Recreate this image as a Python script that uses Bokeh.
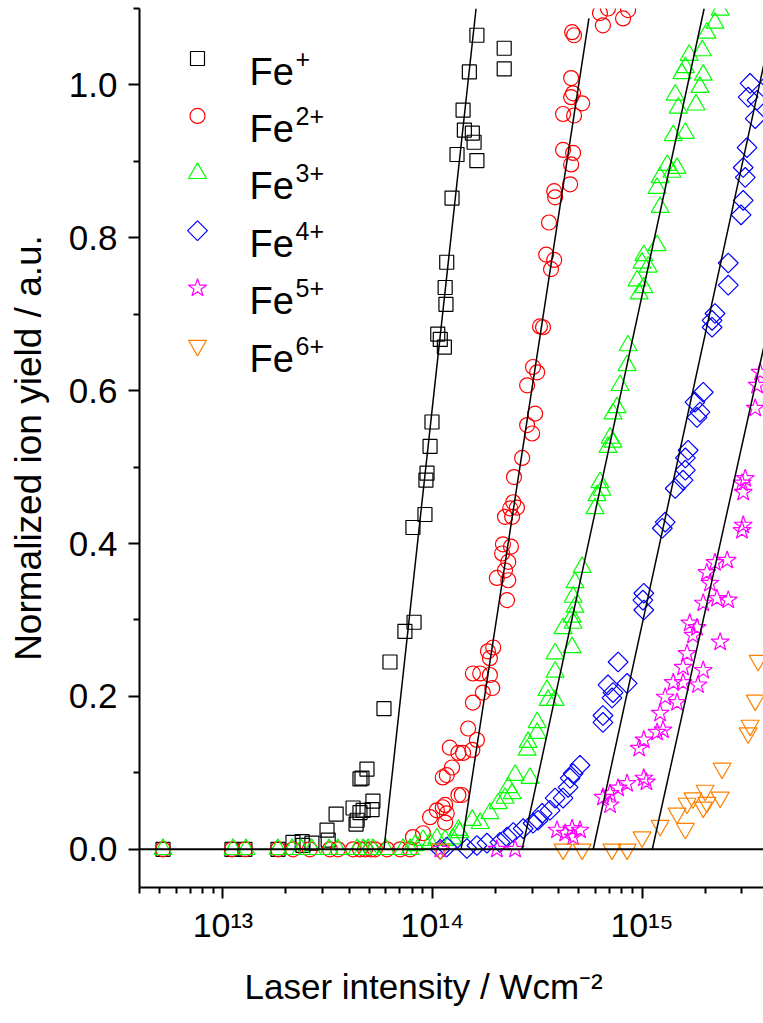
import numpy as np
from bokeh.plotting import figure
from bokeh.models import Range1d, FixedTicker, Span, Title, CustomJSTickFormatter, PrintfTickFormatter
from bokeh.core.properties import value
from bokeh.embed import file_html
from bokeh.resources import INLINE

# Laser intensity in units of 1e13 W/cm^2, normalized ion yield (a.u.)
fe1_I = [0.518, 1.105, 1.274, 1.832, 2.16, 2.39, 2.41, 2.66, 3.14, 3.18, 3.47, 4.18, 4.32, 4.37,
         4.51, 4.67, 5.15, 5.20, 4.61, 4.87, 4.51, 5.87, 6.27, 7.39, 8.17, 8.07, 9.21, 9.31, 9.42,
         9.74, 9.95, 10.6, 10.9, 11.4, 11.5, 11.6, 11.7, 12.4, 13.1, 16.3, 14.0, 14.2, 15.5, 15.8,
         15.0, 16.3, 22.0, 22.0]
fe1_Y = [0, 0, 0, 0, 0.009, 0.010, 0.005, 0.008, 0.025, 0.012, 0.046, 0.054, 0.033, 0.038,
         0.048, 0.051, 0.052, 0.063, 0.093, 0.105, 0.092, 0.184, 0.245, 0.285, 0.297, 0.421, 0.438,
         0.483, 0.492, 0.527, 0.559, 0.674, 0.667, 0.657, 0.735, 0.713, 0.768, 0.852, 0.909, 0.901,
         0.967, 0.941, 0.937, 0.925, 1.017, 1.065, 1.048, 1.021]

fe2_I = [0.518, 1.105, 1.274, 1.832, 2.16, 2.60, 3.24, 3.54, 4.18, 4.51, 4.77, 5.09, 5.32, 6.07,
         7.01, 7.82, 8.07, 9.02, 9.74, 10.5, 11.5, 11.5, 11.2, 11.7, 11.2, 12.4, 11.7, 12.1, 13.3,
         13.3, 13.8, 14.0, 15.5, 16.3, 14.8, 15.6, 17.4, 19.3, 18.8, 16.9, 15.6, 18.8, 18.4, 19.5,
         22.7, 23.0, 20.3, 22.2, 23.0, 21.5, 23.7, 21.7, 24.0, 22.2, 23.5, 25.3, 24.3, 24.5, 26.8,
         29.9, 28.3, 30.9, 28.3, 30.2, 31.6, 32.6, 33.7, 34.9, 38.1, 36.8, 36.0, 38.1, 38.5, 45.4,
         45.9, 42.0, 46.9, 42.0, 47.4, 51.8, 45.9, 46.9, 45.9, 46.4, 47.4, 63.0, 68.8, 65.1, 81.2,
         85.8]
fe2_Y = [0, 0, 0, 0, 0, 0, 0, 0, 0, 0, 0, 0, 0, 0,
         0, 0, 0.016, 0.021, 0.042, 0.051, 0.058, 0.035, 0.055, 0.047, 0.094, 0.107, 0.097, 0.133,
         0.126, 0.071, 0.071, 0.126, 0.130, 0.143, 0.158, 0.192, 0.205, 0.211, 0.228, 0.230, 0.230,
         0.250, 0.259, 0.264, 0.326, 0.352, 0.355, 0.365, 0.376, 0.387, 0.396, 0.399, 0.435, 0.435,
         0.446, 0.447, 0.454, 0.487, 0.512, 0.544, 0.555, 0.570, 0.607, 0.631, 0.624, 0.684, 0.683,
         0.778, 0.771, 0.759, 0.820, 0.861, 0.853, 0.870, 0.896, 0.915, 0.911, 0.962, 0.960, 0.976,
         0.984, 0.989, 1.009, 1.069, 1.065, 1.094, 1.100, 1.078, 1.087, 1.098]

fe3_I = [0.518, 1.117, 1.289, 1.832, 2.137, 2.36, 2.66, 3.21, 3.54, 4.37, 4.67, 4.93, 5.20, 5.99,
         7.24, 7.82, 8.26, 9.02, 9.74, 10.5, 11.5, 12.5, 13.5, 13.3, 15.5, 16.9, 18.8, 20.6, 22.2,
         24.0, 23.0, 29.2, 24.8, 28.3, 28.6, 31.6, 31.6, 35.6, 38.5, 35.2, 38.5, 38.5, 46.4, 42.0,
         46.9, 46.4, 47.9, 46.9, 47.9, 51.8, 59.7, 61.0, 64.4, 63.0, 68.8, 70.4, 72.7, 72.7, 76.0,
         78.6, 84.9, 85.8, 96.9, 102, 94.8, 107, 100, 102, 118, 122, 118, 122, 139, 147, 132, 141,
         161, 149, 181, 144, 189, 196, 155, 161, 168, 194, 204, 223, 236]
fe3_Y = [0, 0, 0, 0, 0, 0, 0, 0, 0, 0, 0, 0, 0, 0,
         0, 0, 0.005, 0.012, 0.008, 0.014, 0.012, 0.014, 0.022, 0.025, 0.038, 0.034, 0.047, 0.060,
         0.067, 0.073, 0.081, 0.093, 0.097, 0.130, 0.140, 0.152, 0.166, 0.195, 0.195, 0.208, 0.232,
         0.256, 0.264, 0.289, 0.296, 0.304, 0.317, 0.330, 0.349, 0.369, 0.446, 0.463, 0.470, 0.480,
         0.526, 0.538, 0.533, 0.570, 0.578, 0.607, 0.633, 0.659, 0.727, 0.735, 0.744, 0.762, 0.767,
         0.777, 0.790, 0.840, 0.865, 0.879, 0.886, 0.891, 0.895, 0.934, 0.937, 0.970, 0.974, 0.987,
         0.997, 1.013, 1.015, 1.023, 1.039, 1.045, 1.068, 1.081, 1.098]

fe4_I = [10.9, 11.7, 14.6, 16.3, 18.2, 21.0, 22.7, 24.3, 27.1, 30.2, 31.9, 33.4, 36.4, 38.5, 42.0,
         44.4, 45.4, 46.9, 50.6, 65.1, 65.1, 71.9, 72.7, 68.8, 84.9, 76.9, 102, 101, 102, 125, 129,
         144, 157, 161, 161, 166, 183, 189, 179, 196, 216, 216, 223, 258, 258, 297, 304, 311, 304,
         317, 347, 354, 321, 328, 409]
fe4_Y = [0.0, 0.003, 0.001, 0.005, 0.008, 0.009, 0.016, 0.022, 0.027, 0.034, 0.038, 0.047, 0.051,
         0.067, 0.067, 0.081, 0.093, 0.099, 0.110, 0.166, 0.175, 0.198, 0.205, 0.215, 0.217, 0.245,
         0.313, 0.326, 0.335, 0.420, 0.428, 0.472, 0.483, 0.496, 0.512, 0.522, 0.565, 0.572, 0.585,
         0.598, 0.683, 0.692, 0.701, 0.738, 0.767, 0.830, 0.849, 0.879, 0.892, 0.918, 0.956, 0.980,
         0.984, 1.002, 1.004]

fe5_I = [10.9, 20.3, 24.8, 39.3, 43.0, 46.4, 46.9, 50.6, 65.1, 70.4, 70.4, 76.9, 84.9, 102, 105,
         96.9, 102, 118, 126, 122, 147, 129, 185, 141, 157, 196, 157, 164, 236, 175, 183, 169, 258,
         228, 196, 211, 204, 223, 255, 300, 304, 304, 300, 311, 347, 354, 366]
fe5_Y = [0.0, 0.0, 0.0, 0.025, 0.021, 0.027, 0.016, 0.025, 0.068, 0.058, 0.073, 0.080, 0.086,
         0.093, 0.088, 0.132, 0.143, 0.153, 0.156, 0.178, 0.192, 0.199, 0.215, 0.218, 0.218, 0.234,
         0.238, 0.256, 0.271, 0.280, 0.290, 0.296, 0.326, 0.328, 0.322, 0.348, 0.362, 0.375, 0.378,
         0.417, 0.424, 0.467, 0.479, 0.485, 0.577, 0.607, 0.624]

fe6_I = [10.9, 42.0, 51.8, 71.9, 84.9, 100, 122, 147, 161, 164, 175, 196, 204, 200, 236, 241, 321,
         328, 347, 358]
fe6_Y = [0.0, 0.0, 0.0, 0.0, 0.0, 0.016, 0.031, 0.047, 0.027, 0.060, 0.067, 0.055, 0.061, 0.077,
         0.068, 0.106, 0.152, 0.162, 0.195, 0.247]

# linear fits (in log intensity): start at zero yield, end point at top
fit_I0 = [5.87, 13.7, 26.8, 58.5, 112]
fit_I1 = [16.15, 55.8, 198, 436, 870]
fit_Y1 = [1.10, 1.087, 1.10, 1.10, 1.10]

ion_base = "Fe"
ion_charge = ["+", "2+", "3+", "4+", "5+", "6+"]
x_tick_values = [1e13, 1e14, 1e15]
x_tick_labels = ["10\u00b9\u00b3", "10\u00b9\u2074", "10\u00b9\u2075"]
y_tick_values = [0.0, 0.2, 0.4, 0.6, 0.8, 1.0]
x_title = "Laser intensity / Wcm\u207b\u00b2"
y_title = "Normalized ion yield / a.u."

UNIT = 1e13
FONT = "Liberation Sans"

X0, X1 = 4e12, 3.8e15
Y0, Y1 = -0.05, 1.1
W, H = 763, 1023
BL, BT, BB = 139, 8, 136
FW, FH = W - BL, H - BT - BB

p = figure(width=W, height=H, x_axis_type="log", output_backend="svg", toolbar_location=None,
           x_range=Range1d(X0, X1), y_range=Range1d(Y0, Y1),
           min_border_left=BL, min_border_right=0, min_border_top=BT, min_border_bottom=BB)
p.outline_line_color = None
p.grid.visible = False
p.background_fill_color = "white"
p.border_fill_color = "white"

def px_to_x(px):
    return 10 ** (np.log10(X0) + (px - BL) * (np.log10(X1) - np.log10(X0)) / FW)

def py_to_y(py):
    return Y1 - (py - BT) * (Y1 - Y0) / FH

# axes
minor_x = [k * 10.0 ** n for n in range(12, 16) for k in range(2, 10)]
p.xaxis.ticker = FixedTicker(ticks=x_tick_values, minor_ticks=minor_x)
js_map = "{" + ",".join(f"{int(round(np.log10(t)))}: '{s}'" for t, s in zip(x_tick_values, x_tick_labels)) + "}"
p.xaxis.formatter = CustomJSTickFormatter(
    code=f"const m = {js_map}; return m[Math.round(Math.log10(tick))] || '';")
p.yaxis.ticker = FixedTicker(ticks=y_tick_values, minor_ticks=[0.1, 0.3, 0.5, 0.7, 0.9, 1.1])
p.yaxis.formatter = PrintfTickFormatter(format="%.1f")
for ax in (p.xaxis[0], p.yaxis[0]):
    ax.axis_line_width = 2
    ax.axis_line_color = "black"
    ax.major_tick_line_width = 2
    ax.minor_tick_line_width = 2
    ax.major_tick_line_color = "black"
    ax.minor_tick_line_color = "black"
    ax.major_tick_in = 0
    ax.minor_tick_in = 0
    ax.major_tick_out = 11
    ax.minor_tick_out = 6
    ax.major_label_text_font = FONT
    ax.major_label_text_color = "black"
p.yaxis.major_label_text_font_size = "35px"
p.yaxis.major_label_standoff = 11
p.xaxis.major_label_text_font_size = "34px"
p.xaxis.major_label_standoff = 7
p.yaxis.axis_label = y_title
p.yaxis.axis_label_text_font = FONT
p.yaxis.axis_label_text_font_size = "37px"
p.yaxis.axis_label_text_font_style = "normal"
p.yaxis.axis_label_text_color = "black"
p.yaxis.axis_label_standoff = 17

# x axis title, left-aligned with a horizontal offset
p.add_layout(Title(text=x_title, align="left", offset=105, standoff=36,
                   text_font=FONT, text_font_size="35px", text_font_style="normal",
                   text_color="black"), "below")

# zero line
p.add_layout(Span(location=0, dimension="width", line_color="black", line_width=2))

series = [
    (fe1_I, fe1_Y, "square", "#000000", 14, 0.0),
    (fe2_I, fe2_Y, "circle", "#FF0000", 15, 0.0),
    (fe3_I, fe3_Y, "triangle", "#00FF00", 18, 0.0),
    (fe4_I, fe4_Y, "square", "#0000FF", 14, np.pi / 4),
    (fe5_I, fe5_Y, "star", "#FF00FF", 19, 0.0),
    (fe6_I, fe6_Y, "inverted_triangle", "#FF8000", 18, 0.0),
]

for I, Y, mk, col, sz, ang in series:
    p.scatter(x=[v * UNIT for v in I], y=Y, marker=mk, size=sz, angle=ang,
              fill_color=None, line_color=col, line_width=1.2)

p.segment(x0=[v * UNIT for v in fit_I0], y0=[0] * len(fit_I0),
          x1=[v * UNIT for v in fit_I1], y1=fit_Y1, line_color="black", line_width=1.5)

# legend (manual, with superscript charges)
lx = px_to_x(197)
for k, (I, Y, mk, col, sz, ang) in enumerate(series):
    cy = 58 + 57.4 * k
    p.scatter(x=[lx], y=[py_to_y(cy)], marker=mk, size=sz, angle=ang,
              fill_color=None, line_color=col, line_width=1.2)
    p.text(x=[lx], y=[py_to_y(cy + 13)], text=[ion_base], x_offset=52,
           text_font=value(FONT), text_font_size="38px", text_color="black",
           text_baseline="alphabetic", text_align="left")
    p.text(x=[lx], y=[py_to_y(cy)], text=[ion_charge[k]], x_offset=98,
           text_font=value(FONT), text_font_size="25px", text_color="black",
           text_baseline="alphabetic", text_align="left")

open("out.html", "w").write(file_html(p, INLINE))
